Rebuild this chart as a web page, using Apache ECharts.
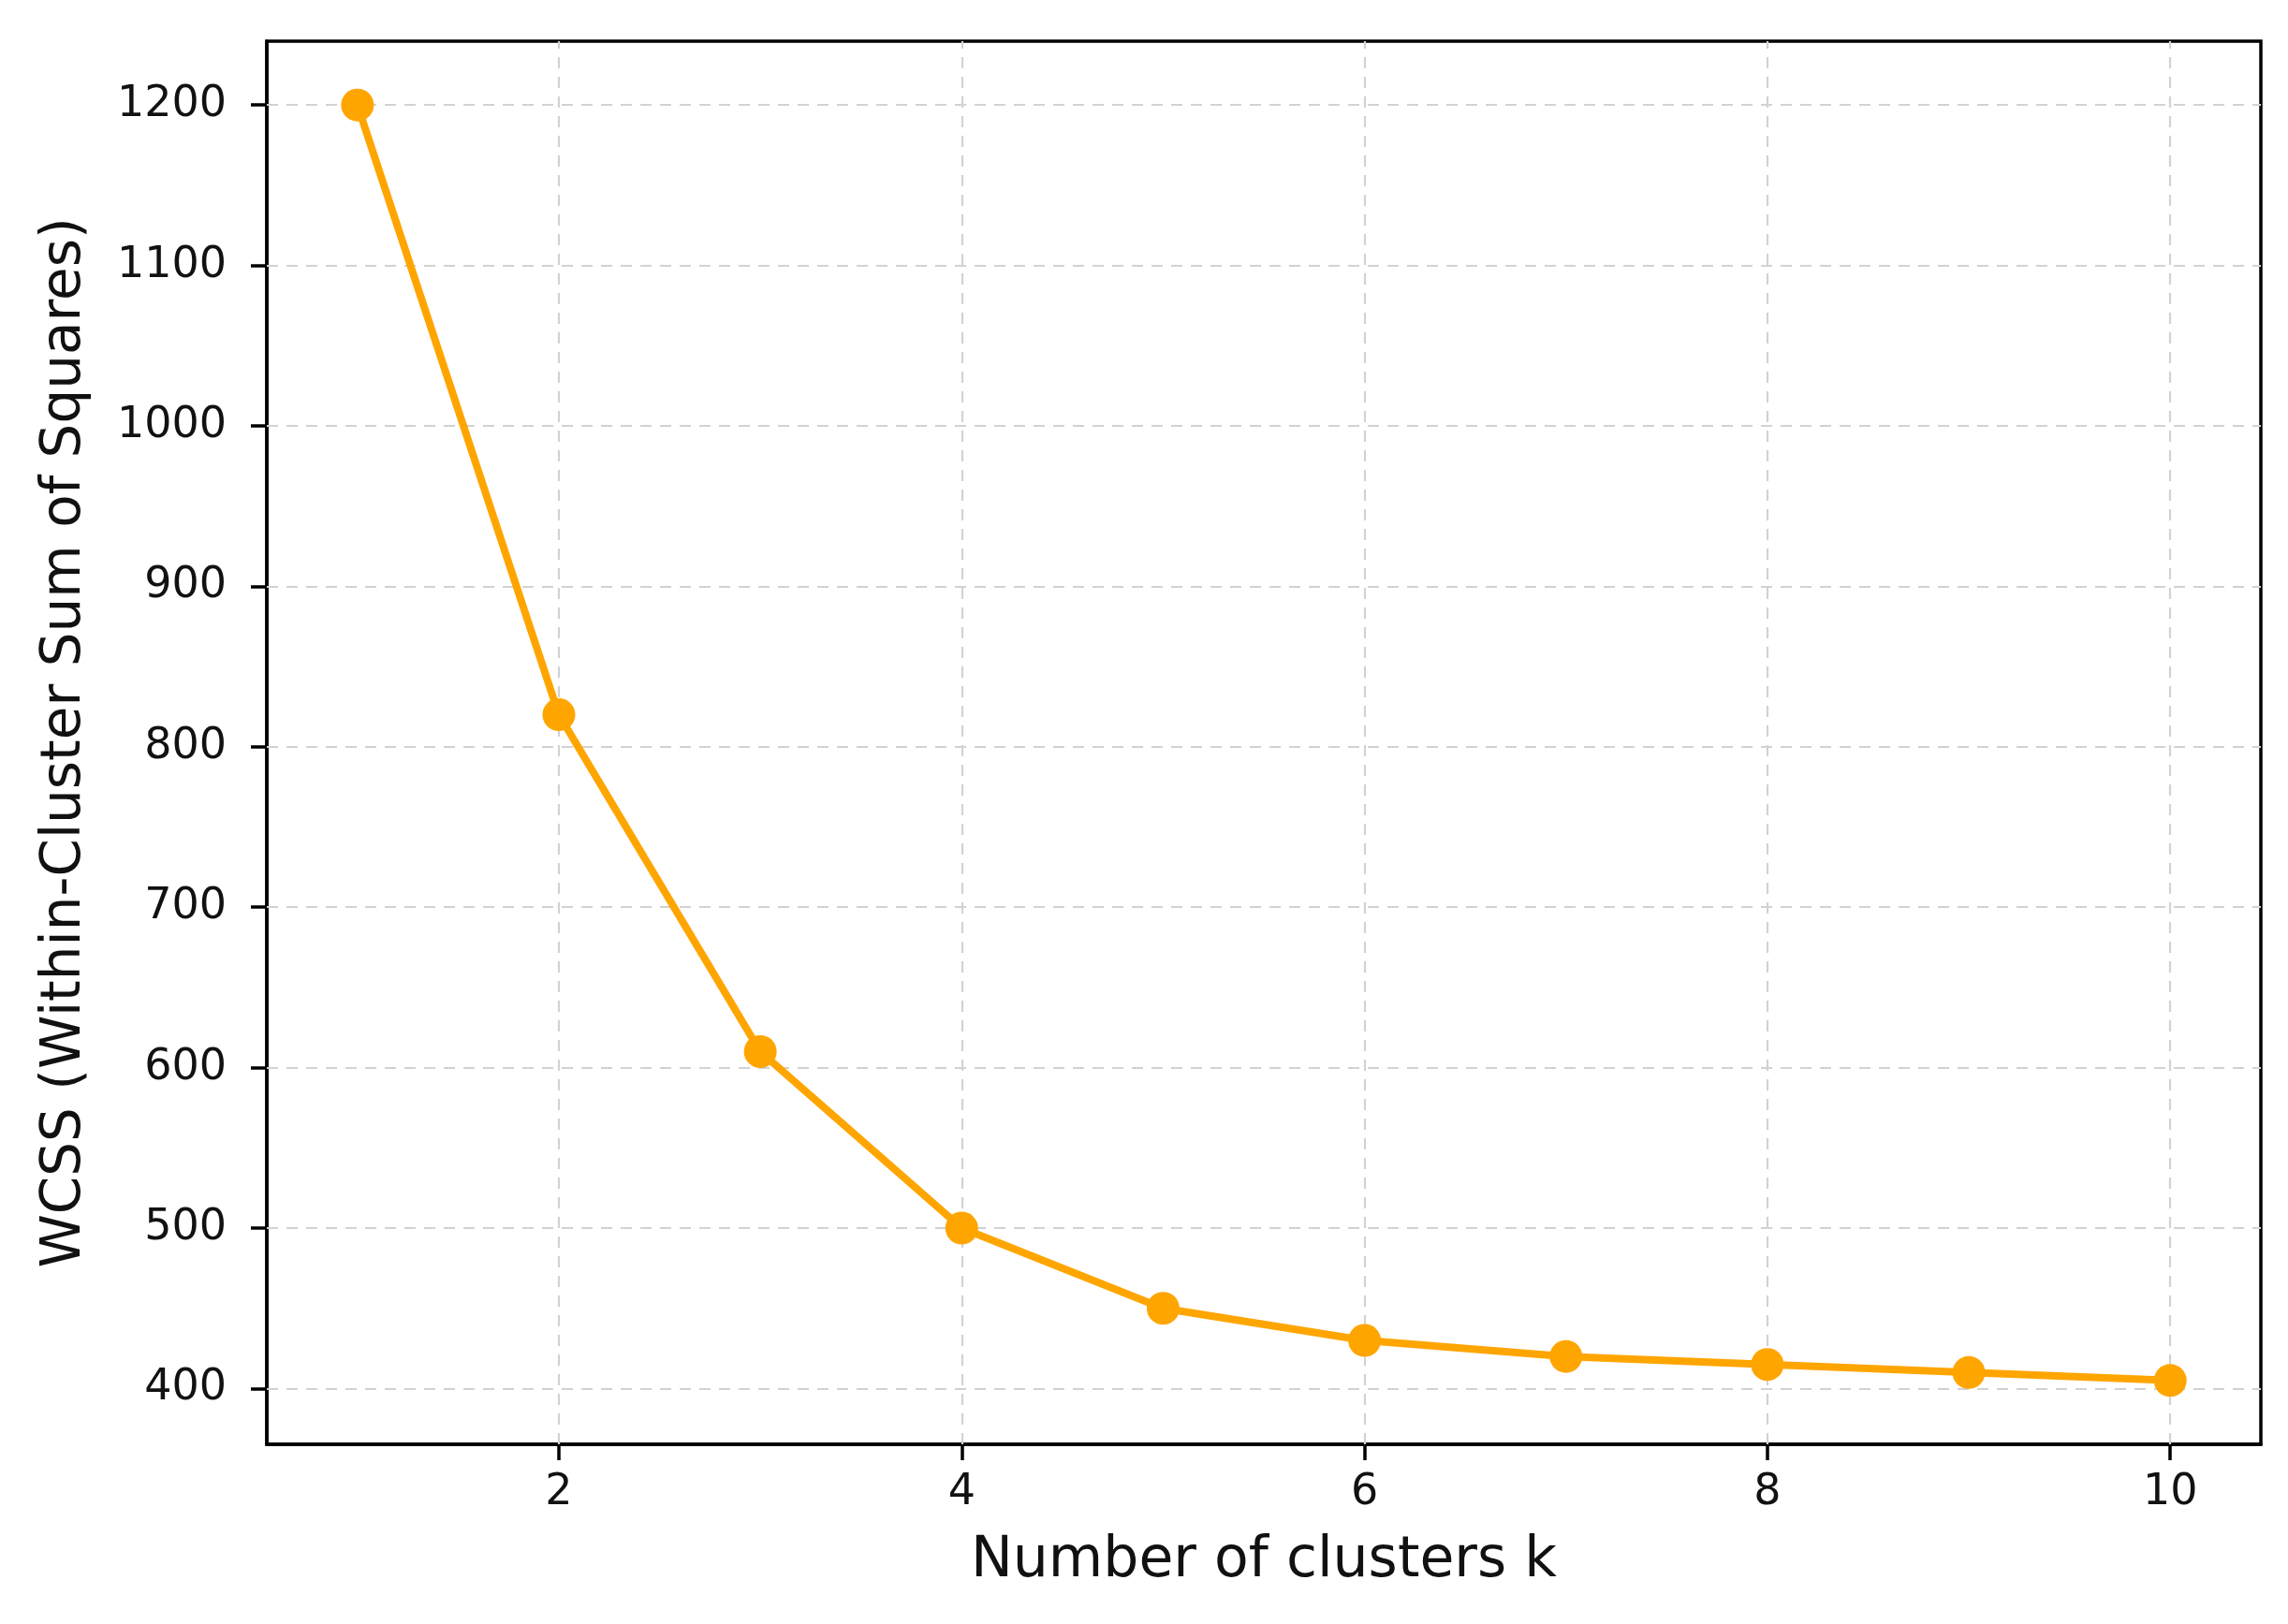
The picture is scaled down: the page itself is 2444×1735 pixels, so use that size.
<!DOCTYPE html>
<html>
<head>
<meta charset="utf-8">
<script src="https://cdn.jsdelivr.net/npm/echarts@6/dist/echarts.min.js"></script>
<style>
html,body{margin:0;padding:0;background:#fff;}
#c{width:2444px;height:1735px;}
</style>
</head>
<body>
<div id="c"></div>
<script>
const kValues = [1, 2, 3, 4, 5, 6, 7, 8, 9, 10];
const wcssValues = [1200, 820, 610, 500, 450, 430, 420, 415, 410, 405];
const xTicks = [2, 4, 6, 8, 10];
const yTicks = [400, 500, 600, 700, 800, 900, 1000, 1100, 1200];
const xName = 'Number of clusters k';
const yName = 'WCSS (Within-Cluster Sum of Squares)';

const points = kValues.map((k, i) => [k, wcssValues[i]]);
const font = 'DejaVu Sans';
const textColor = '#111111';
const gridStyle = {color: '#d2d2d2', width: 2.2, type: [12, 9]};

const chart = echarts.init(document.getElementById('c'), null, {renderer: 'canvas'});
chart.setOption({
  animation: false,
  backgroundColor: '#fff',
  grid: {left: 285, right: 29, top: 44, bottom: 192, show: true, borderColor: '#000', borderWidth: 3.5, outerBoundsMode: 'none', containLabel: false},
  xAxis: {
    type: 'value', min: 0.55, max: 10.45,
    name: xName, nameLocation: 'middle', nameGap: 95,
    nameTextStyle: {fontFamily: font, fontSize: 60, color: textColor},
    axisLine: {show: true, onZero: false, lineStyle: {color: '#000', width: 3.5}},
    axisTick: {show: true, customValues: xTicks, length: 17, lineStyle: {color: '#000', width: 3.5}},
    axisLabel: {customValues: xTicks, fontFamily: font, fontSize: 46, color: textColor, margin: 29, formatter: v => String(v)},
    splitLine: {show: false}
  },
  yAxis: {
    type: 'value', min: 365.25, max: 1239.75,
    name: yName, nameLocation: 'middle', nameGap: 186,
    nameTextStyle: {fontFamily: font, fontSize: 58, color: textColor},
    axisLine: {show: true, onZero: false, lineStyle: {color: '#000', width: 3.5}},
    axisTick: {show: true, customValues: yTicks, length: 17, lineStyle: {color: '#000', width: 3.5}},
    axisLabel: {customValues: yTicks, fontFamily: font, fontSize: 46, color: textColor, margin: 43, formatter: v => String(v)},
    splitLine: {show: false}
  },
  series: [
    {
      type: 'line', name: 'grid', data: points, z: 1,
      showSymbol: false, symbol: 'none', lineStyle: {opacity: 0, width: 0}, silent: true,
      markLine: {
        silent: true, symbol: 'none', label: {show: false}, animation: false,
        lineStyle: gridStyle,
        data: xTicks.map(v => ({xAxis: v})).concat(yTicks.map(v => ({yAxis: v})))
      }
    },
    {
      type: 'line', name: 'WCSS', data: points, z: 5,
      symbol: 'circle', symbolSize: 35,
      itemStyle: {color: '#FFA500'},
      lineStyle: {color: '#FFA500', width: 8}
    }
  ]
});
</script>
</body>
</html>
